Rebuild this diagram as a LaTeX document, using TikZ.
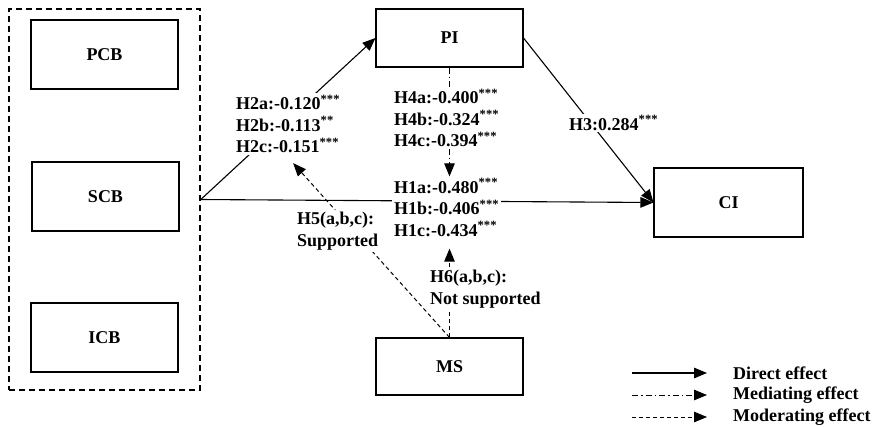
\documentclass[tikz,border=0pt]{standalone}
\usepackage{fontspec}
\setmainfont{Liberation Serif}
\usetikzlibrary{arrows.meta,backgrounds,calc}
\tikzset{
  box/.style={draw, line width=1.1pt, minimum width=147pt, minimum height=69pt, inner sep=0pt},
  lbl/.style={fill=white, inner sep=2pt, align=left, anchor=west},
  legtext/.style={inner sep=0pt, anchor=west},
  tipstyle/.style={-{Triangle[length=13pt,width=10.5pt]}},
  direct/.style={tipstyle, line width=1.1pt},
  mediating/.style={tipstyle, line width=1pt, dash pattern=on 6pt off 3pt on 1.5pt off 3pt},
  moderating/.style={tipstyle, line width=1pt, dash pattern=on 4pt off 3pt},
}
\begin{document}
\begin{tikzpicture}[x=1pt,y=-1pt, font=\fontsize{18}{21.5}\selectfont\bfseries]
\useasboundingbox (0,0) rectangle (874,426);
% outer group
\node[draw, line width=1.5pt, dash pattern=on 6pt off 4pt, minimum width=191pt, minimum height=381pt, inner sep=0pt] (grp) at (104.5,199.5) {};
\node[box] (PCB) at (104.5,54.5) {PCB};
\node[box] (SCB) at (105.5,196.5) {SCB};
\node[box] (ICB) at (104.5,337.5) {ICB};
\node[box, minimum height=58pt] (PI) at (449.5,38) {PI};
\node[box, minimum width=149pt] (CI) at (728.5,202.5) {CI};
\node[box, minimum height=57pt] (MS) at (449.5,366.5) {MS};
% labels
\node[lbl] (h2) at (234,124) {H2a:-0.120\textsuperscript{***}\\H2b:-0.113\textsuperscript{**}\\H2c:-0.151\textsuperscript{***}};
\node[lbl] (h4) at (392,118) {H4a:-0.400\textsuperscript{***}\\H4b:-0.324\textsuperscript{***}\\H4c:-0.394\textsuperscript{***}};
\node[lbl] (h1) at (392,207.5) {H1a:-0.480\textsuperscript{***}\\H1b:-0.406\textsuperscript{***}\\H1c:-0.434\textsuperscript{***}};
\node[lbl] (h3) at (567,123) {H3:0.284\textsuperscript{***}};
\node[lbl] (h5) at (295,231) {H5(a,b,c):\\Supported};
\node[lbl] (h6) at (428,289) {H6(a,b,c):\\Not supported};
% connectors
\begin{pgfonlayer}{background}
\draw[direct] (grp.east) -- (PI.west);
\draw[direct] (grp.east) -- (CI.west);
\draw[direct] (PI.east) -- (CI.west);
\draw[mediating] (PI.south) -- (PI.south |- h1.north);
\draw[moderating] (MS.north) -- ([yshift=-10pt]MS.north |- h1.south);
\draw[moderating] (MS.north) -- ([xshift=5pt,yshift=-8pt]h2.south);
\end{pgfonlayer}
% legend
\coordinate (d1) at (632,373);
\coordinate (d2) at (707,373);
\coordinate (m1) at (632,395);
\coordinate (m2) at (707,395);
\coordinate (o1) at (632,417);
\coordinate (o2) at (707,417);
\draw[direct] (d1) -- (d2);
\draw[mediating] (m1) -- (m2);
\draw[moderating] (o1) -- (o2);
\node[legtext] (ld) at (733,373) {Direct effect};
\node[legtext] (lm) at (733,395) {Mediating effect};
\node[legtext] (lo) at (733,417) {Moderating effect};
\end{tikzpicture}
\end{document}
